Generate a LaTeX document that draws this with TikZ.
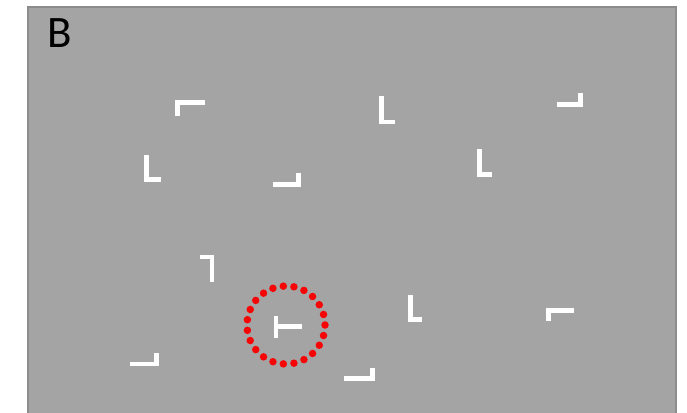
\documentclass[tikz,border=0pt]{standalone}
\usepackage{fontspec}
\setmainfont{Carlito}
\definecolor{bggray}{RGB}{164,164,164}
\definecolor{edgegray}{RGB}{140,140,140}
\definecolor{dotred}{RGB}{245,5,5}
\begin{document}
\begin{tikzpicture}[x=1pt,y=-1pt,
  bar/.style={draw=white,line width=4.5pt,line cap=butt,line join=miter},
  ring/.style={draw=dotred,line width=7.5pt,line cap=round,dash pattern=on 0pt off 10.65pt}]
\useasboundingbox (0,0) rectangle (687,412);
\fill[white] (0,0) rectangle (687,412);
\draw[fill=bggray,draw=edgegray,line width=1.5pt] (28,7) rectangle (676,420);
\node[anchor=base west,inner sep=0pt,font=\fontsize{45}{45}\selectfont] (lab) at (47,48) {B};
% shapes
\draw[bar] (205,102.7) -- (177.7,102.7) -- (177.7,116);
\draw[bar] (146.7,155) -- (146.7,179.7) -- (161,179.7);
\draw[bar] (272.7,184.7) -- (298.7,184.7) -- (298.7,173);
\draw[bar] (381.7,96) -- (381.7,122) -- (395,122);
\draw[bar] (556.7,104.7) -- (580.7,104.7) -- (580.7,93.3);
\draw[bar] (479.7,149.3) -- (479.7,174.7) -- (491.7,174.7);
\draw[bar] (200,257) -- (212,257) -- (212,281.7);
\draw[bar] (130,364) -- (156.3,364) -- (156.3,353.3);
\draw[bar] (276,316) -- (276,337.7);
\draw[bar] (276,326.7) -- (301.7,326.7);
\draw[bar] (344,378.7) -- (372.3,378.7) -- (372.3,367.7);
\draw[bar] (410.3,295) -- (410.3,319.7) -- (421.7,319.7);
\draw[bar] (574,310.3) -- (548.7,310.3) -- (548.7,320.7);
\coordinate (cc) at (286,325);
\draw[ring] (cc) circle[radius=39];
\end{tikzpicture}
\end{document}
